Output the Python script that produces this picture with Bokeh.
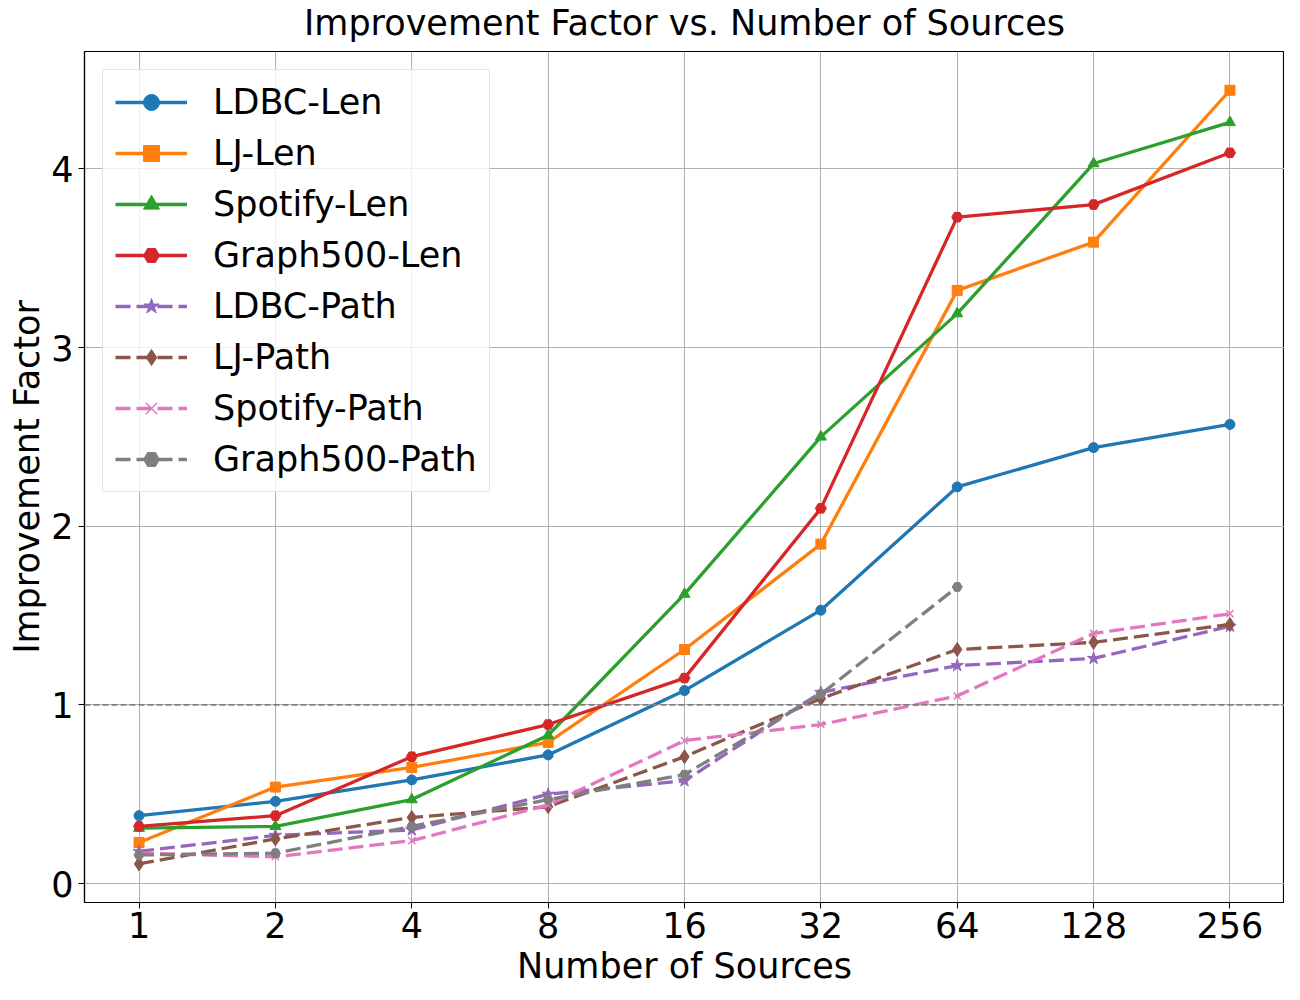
from bokeh.plotting import figure
from bokeh.models import FixedTicker, Span, Legend, LegendItem, Range1d, Title
from bokeh.embed import file_html
from bokeh.resources import INLINE

sources = ["1", "2", "4", "8", "16", "32", "64", "128", "256"]

ldbc_len = [0.38, 0.46, 0.58, 0.72, 1.08, 1.53, 2.22, 2.44, 2.57]
lj_len = [0.23, 0.54, 0.65, 0.79, 1.31, 1.90, 3.32, 3.59, 4.44]
spotify_len = [0.31, 0.32, 0.47, 0.83, 1.62, 2.50, 3.19, 4.03, 4.26]
graph500_len = [0.32, 0.38, 0.71, 0.89, 1.15, 2.10, 3.73, 3.80, 4.09]
ldbc_path = [0.18, 0.27, 0.30, 0.50, 0.575, 1.07, 1.22, 1.26, 1.44]
lj_path = [0.11, 0.25, 0.37, 0.43, 0.71, 1.035, 1.31, 1.35, 1.45]
spotify_path = [0.17, 0.15, 0.24, 0.44, 0.80, 0.89, 1.05, 1.40, 1.51]
graph500_path = [0.16, 0.17, 0.32, 0.47, 0.61, 1.06, 1.66]

series = [
    ("LDBC-Len", ldbc_len, "#1f77b4", "circle", None, 10),
    ("LJ-Len", lj_len, "#ff7f0e", "square", None, 10),
    ("Spotify-Len", spotify_len, "#2ca02c", "triangle", None, 11),
    ("Graph500-Len", graph500_len, "#d62728", "hex", None, 11),
    ("LDBC-Path", ldbc_path, "#9467bd", "star", "15 6", 13),
    ("LJ-Path", lj_path, "#8c564b", "diamond", "15 6", 14),
    ("Spotify-Path", spotify_path, "#e377c2", "x", "15 6", 10),
    ("Graph500-Path", graph500_path, "#7f7f7f", "hex", "15 6", 10),
]

FONT = "DejaVu Sans"
FS = "35px"

p = figure(width=1284, height=990, output_backend="svg", toolbar_location=None,
           title="Improvement Factor vs. Number of Sources",
           x_range=Range1d(-0.4, 8.4), y_range=Range1d(-0.106, 4.657),
           min_border_left=84, min_border_right=0, min_border_top=42, min_border_bottom=88)

p.title.text_font = FONT
p.title.text_font_size = FS
p.title.text_font_style = "normal"
p.title.align = "center"
p.title.vertical_align = "bottom"
p.title.text_color = "black"
p.title.standoff = 1

# small blank spacer above the title
p.add_layout(Title(text=" ", text_font_size="6px", standoff=0), "above")

p.outline_line_color = "black"
p.outline_line_width = 1.2
p.outline_line_alpha = 1

for ax in (p.xaxis[0], p.yaxis[0]):
    ax.axis_line_color = "black"
    ax.axis_line_width = 1.2
    ax.major_tick_out = 6
    ax.major_tick_in = 0
    ax.major_tick_line_color = "black"
    ax.minor_tick_line_color = None
    ax.major_label_text_font = FONT
    ax.major_label_text_font_size = FS
    ax.major_label_text_color = "black"
    ax.axis_label_text_font = FONT
    ax.axis_label_text_font_size = FS
    ax.axis_label_text_font_style = "normal"
    ax.axis_label_text_color = "black"

p.xaxis.ticker = FixedTicker(ticks=list(range(len(sources))))
p.xaxis.major_label_overrides = {i: s for i, s in enumerate(sources)}
p.xaxis.axis_label = "Number of Sources"
p.xaxis.axis_label_standoff = 5
p.xaxis.major_label_standoff = 3

p.yaxis.ticker = FixedTicker(ticks=[0, 1, 2, 3, 4])
p.yaxis.axis_label = "Improvement Factor"
p.yaxis.axis_label_standoff = 1
p.yaxis.major_label_standoff = 5

p.grid.grid_line_color = "#b0b0b0"
p.grid.grid_line_width = 1

p.add_layout(Span(location=1, dimension="width", line_color="gray",
                  line_dash="6 3", line_width=1.6))

items = []
for name, vals, color, marker, dash, size in series:
    xs = list(range(len(vals)))
    kw = {}
    if dash:
        kw["line_dash"] = dash
    r1 = p.line(xs, vals, line_color=color, line_width=3.3, **kw)
    r2 = p.scatter(xs, vals, marker=marker, size=size, fill_color=color,
                   line_color=color, line_width=1.5 if marker == "x" else 1)
    items.append(LegendItem(label=name, renderers=[r1, r2]))

legend = Legend(items=items, location="top_left")
legend.label_text_font = FONT
legend.label_text_font_size = FS
legend.label_text_color = "black"
legend.glyph_width = 72
legend.glyph_height = 40
legend.label_height = 40
legend.label_standoff = 26
legend.spacing = 11
legend.padding = 12
legend.margin = 18
legend.border_line_color = "#cccccc"
legend.border_line_width = 1
legend.background_fill_alpha = 0.8
p.add_layout(legend)

open("out.html", "w").write(file_html(p, INLINE))
